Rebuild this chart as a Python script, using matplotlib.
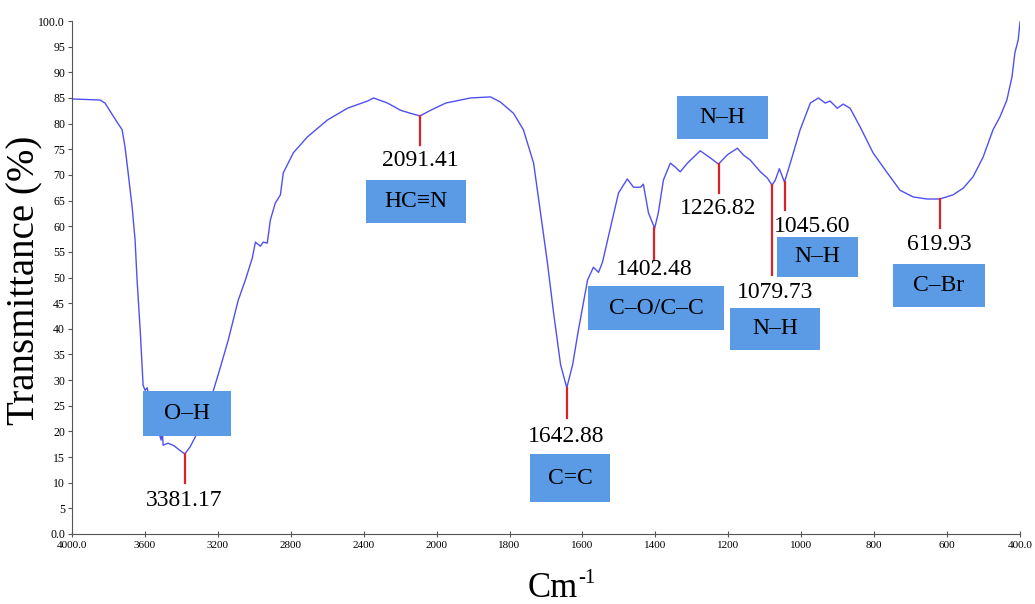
import numpy as np
import matplotlib
matplotlib.use("Agg")
import matplotlib.pyplot as plt
from matplotlib.patches import Rectangle

plt.rcParams['font.family'] = ['Liberation Serif', 'DejaVu Serif']

# espectro FTIR (numero de onda cm-1, % transmitancia)
wn = [4000, 3846, 3819, 3753, 3725, 3709, 3692, 3670, 3654, 3643, 3626, 3610, 3599, 3588,
      3560, 3530, 3511, 3505, 3500, 3473, 3440, 3412, 3381, 3352, 3324, 3269, 3225, 3187,
      3143, 3088, 3049, 3011, 2994, 2967, 2951, 2929, 2912, 2885, 2857, 2841, 2786, 2709,
      2599, 2489, 2379, 2346, 2269, 2198, 2143, 2091, 2033, 1975, 1907, 1852, 1825, 1789,
      1762, 1734, 1715, 1696, 1679, 1660, 1643, 1627, 1611, 1586, 1570, 1556, 1545, 1523,
      1501, 1477, 1460, 1441, 1433, 1419, 1402, 1392, 1378, 1359, 1345, 1332, 1312, 1277,
      1249, 1227, 1203, 1175, 1159, 1140, 1112, 1093, 1080, 1071, 1060, 1046, 1030, 1003,
      975, 953, 934, 921, 901, 885, 866, 838, 803, 764, 729, 693, 655, 620, 584, 556, 529,
      501, 474, 455, 436, 422, 414, 405, 400]
trans = [84.8, 84.6, 84.0, 80.3, 78.8, 75.4, 70.4, 63.7, 57.3, 49.5, 39.8, 29.0, 28.0, 28.5,
         24.0, 20.5, 18.3, 20.3, 17.3, 17.7, 17.2, 16.4, 15.6, 17.0, 18.9, 23.5, 27.9, 32.4,
         37.8, 45.6, 49.5, 53.8, 56.9, 56.1, 56.9, 56.7, 61.2, 64.5, 66.1, 70.4, 74.3, 77.4,
         80.7, 83.0, 84.4, 85.0, 84.0, 82.6, 82.0, 81.5, 82.6, 84.0, 85.0, 85.2, 84.2, 82.0,
         78.8, 72.3, 62.6, 52.8, 43.0, 33.0, 28.5, 33.0, 39.8, 49.5, 52.0, 51.0, 53.0, 59.8,
         66.5, 69.2, 67.6, 67.6, 68.2, 62.6, 59.6, 62.6, 69.0, 72.3, 71.5, 70.6, 72.3, 74.7,
         73.3, 72.1, 73.9, 75.2, 73.9, 72.9, 70.6, 69.4, 68.0, 69.0, 71.2, 68.6, 72.3, 78.8,
         84.0, 85.0, 84.0, 84.4, 83.0, 83.8, 83.0, 79.3, 74.3, 70.4, 67.0, 65.7, 65.3, 65.3,
         66.1, 67.4, 69.6, 73.5, 78.8, 81.3, 84.6, 89.1, 93.8, 96.3, 99.8]

# picos marcados
picos = [3381.17, 2091.41, 1642.88, 1402.48, 1226.82, 1079.73, 1045.60, 619.93]
picos_txt = ["3381.17", "2091.41", "1642.88", "1402.48", "1226.82", "1079.73", "1045.60", "619.93"]
grupos = ["O\u2013H", "HC\u2261N", "C=C", "C\u2013O/C\u2013C", "N\u2013H", "N\u2013H", "N\u2013H", "C\u2013Br"]

# longitud de la linea roja (hasta que % baja) y posicion de textos / cajas (pixeles)
fin_linea = [9.9, 75.8, 22.6, 53.4, 66.5, 50.5, 63.2, 59.6]
pos_num = [(184, 501), (420, 160), (566, 437), (654, 270), (718, 208), (775, 293), (812, 227), (939, 244)]
cajas = [(143, 231, 391, 436), (366, 466, 180, 223), (530, 610, 454, 502), (588, 724, 286, 330),
         (677, 768, 96, 139), (730, 820, 308, 350), (777, 858, 237, 277), (893, 985, 264, 307)]

W, H = 1035, 604


# escala comprimida por encima de 2000 cm-1 (como en el equipo)
def adelante(w):
    w = np.asarray(w, dtype=float)
    return np.where(w >= 2000, w, 2 * w - 2000)


def atras(u):
    u = np.asarray(u, dtype=float)
    return np.where(u >= 2000, u, (u + 2000) / 2)


fig = plt.figure(figsize=(W / 100, H / 100), dpi=100)
ax = fig.add_axes([72 / W, 1 - 534 / H, (1020 - 72) / W, (534 - 21) / H])
ax.set_xscale('function', functions=(adelante, atras))
ax.set_xlim(4000, 400)
ax.set_ylim(0, 100)

ax.plot(wn, trans, color='#5050f0', lw=1.0, zorder=2)

xt = [4000, 3600, 3200, 2800, 2400, 2000, 1800, 1600, 1400, 1200, 1000, 800, 600, 400]
ax.set_xticks(xt)
ax.set_xticklabels(["4000.0"] + [str(v) for v in xt[1:-1]] + ["400.0"])
yt = list(range(0, 101, 5))
ax.set_yticks(yt)
ax.set_yticklabels(["0.0"] + [str(v) for v in yt[1:-1]] + ["100.0"])
ax.tick_params(axis='x', direction='inout', length=4, labelsize=8, pad=3, color='#555555')
ax.tick_params(axis='y', direction='out', length=3, labelsize=8.5, pad=2, color='#555555')
for s in ['top', 'right']:
    ax.spines[s].set_visible(False)
for s in ['left', 'bottom']:
    ax.spines[s].set_color('#555555')

# lineas rojas
for p, f in zip(picos, fin_linea):
    y0 = np.interp(p, wn[::-1], trans[::-1])
    ax.plot([p, p], [y0, f], color='#d8232a', lw=1.6, zorder=3)

# cajas azules y textos
for (x0, x1, y0, y1), g in zip(cajas, grupos):
    fig.patches.append(Rectangle((x0 / W, 1 - y1 / H), (x1 - x0) / W, (y1 - y0) / H,
                                 transform=fig.transFigure, facecolor='#5b9be6',
                                 edgecolor='none', zorder=4))
    fig.text((x0 + x1) / 2 / W, 1 - (y0 + y1) / 2 / H, g, ha='center', va='center',
             fontsize=17, zorder=5)

for (px, py), t in zip(pos_num, picos_txt):
    fig.text(px / W, 1 - py / H, t, ha='center', va='center', fontsize=17)

fig.text(25 / W, 1 - 280 / H, "Transmittance (%)", rotation=90, ha='center', va='center', fontsize=28)
fig.text(578 / W, 1 - 597 / H, "Cm", ha='right', va='baseline', fontsize=25)
fig.text(578 / W, 1 - 583 / H, "-1", ha='left', va='baseline', fontsize=15)

fig.savefig("out.png", dpi=100)
